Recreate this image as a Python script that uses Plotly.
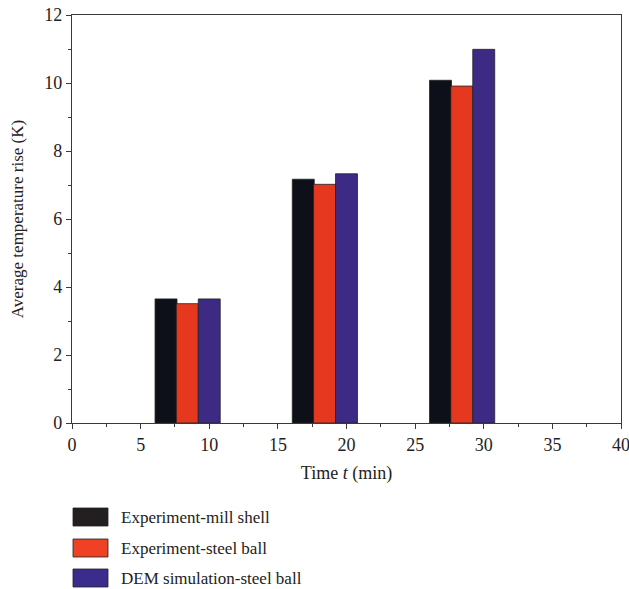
import plotly.graph_objects as go

times = [10, 20, 30]
series_names = ["Experiment-mill shell", "Experiment-steel ball", "DEM simulation-steel ball"]
mill_shell = [3.65, 7.17, 10.08]
steel_ball_exp = [3.51, 7.02, 9.91]
steel_ball_dem = [3.65, 7.33, 10.99]
series_values = [mill_shell, steel_ball_exp, steel_ball_dem]
colors = ["#0d1018", "#e5381f", "#3c2a85"]
legend_colors = ["#231f20", "#ef4123", "#3a2c8c"]
offsets = [-3.95, -2.4, -0.8]
bar_width = 1.6

fig = go.Figure()
for name, vals, c, off in zip(series_names, series_values, colors, offsets):
    fig.add_trace(go.Bar(
        x=times, y=vals, name=name, marker=dict(color=c, line=dict(color="#222", width=0.8)),
        offset=off, width=bar_width, showlegend=False))

font_family = "Liberation Serif"
axis_common = dict(
    showline=True, linecolor="#3a3a3a", linewidth=1.2, mirror=True,
    ticks="outside", ticklen=5, tickwidth=1.2, tickcolor="#3a3a3a",
    showgrid=False, zeroline=False, automargin=False, ticklabeloverflow="allow",
    tickfont=dict(family=font_family, size=18, color="#222"),
)
fig.update_xaxes(range=[0, 40], dtick=5, tick0=0,
                 minor=dict(dtick=2.5, ticks="outside", ticklen=3, tickcolor="#3a3a3a", tickwidth=1),
                 title=dict(text="Time <i>t</i> (min)", font=dict(family=font_family, size=18, color="#222"), standoff=12),
                 **axis_common)
fig.update_yaxes(range=[0, 12], dtick=2, tick0=0,
                 minor=dict(dtick=1, ticks="outside", ticklen=3, tickcolor="#3a3a3a", tickwidth=1),
                 title=dict(text="Average temperature rise (K)", font=dict(family=font_family, size=17, color="#222"), standoff=16),
                 **axis_common)

# manual legend below the plot
legend_y = [517, 548, 578]
H = 589
ph = H - 15 - 166
for name, c, yc in zip(series_names, legend_colors, legend_y):
    fig.add_shape(type="rect", xref="paper", yref="paper",
                  x0=(73 - 72) / 549, x1=(108 - 72) / 549,
                  y0=(H - 166 - (yc + 9)) / ph, y1=(H - 166 - (yc - 9)) / ph,
                  fillcolor=c, line=dict(color="#222", width=0.8))
    fig.add_annotation(xref="paper", yref="paper", x=(119 - 72) / 549,
                       y=(H - 166 - yc) / ph, text=name, showarrow=False,
                       xanchor="left", yanchor="middle",
                       font=dict(family=font_family, size=17, color="#222"))

fig.update_layout(
    width=629, height=589,
    margin=dict(l=72, r=8, t=15, b=166),
    paper_bgcolor="white", plot_bgcolor="white",
    font=dict(family=font_family, color="#222"),
)
fig.write_html("out.html")
